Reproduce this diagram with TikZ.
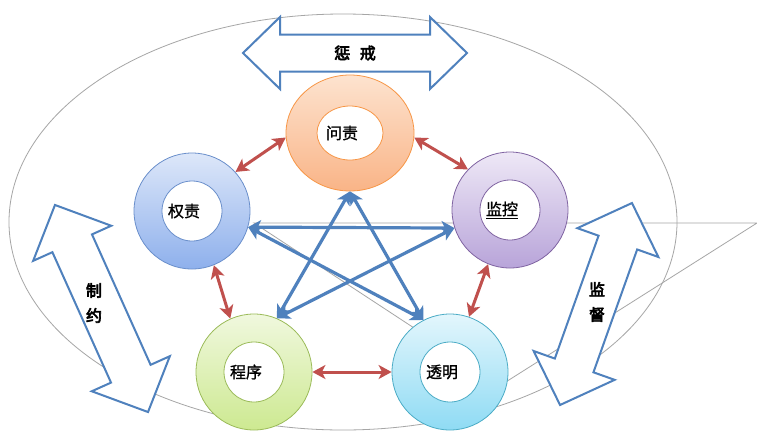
\documentclass[tikz,border=0pt]{standalone}
\usepackage{fontspec}
\usetikzlibrary{arrows.meta,shapes.geometric}
\newfontfamily\cjkring[FakeBold=1.2]{Noto Sans CJK SC}
\newfontfamily\cjkside[FakeBold=4]{Noto Sans CJK SC}
\definecolor{ellgray}{HTML}{A6A6A6}
\definecolor{arrblue}{HTML}{4F81BD}
\definecolor{arrred}{HTML}{C0504D}
\definecolor{orgtop}{HTML}{FDE3CF}
\definecolor{orgbot}{HTML}{F9B487}
\definecolor{orgbd}{HTML}{F79646}
\definecolor{blutop}{HTML}{DDE7F9}
\definecolor{blubot}{HTML}{8EB0EC}
\definecolor{blubd}{HTML}{6A8FCB}
\definecolor{purtop}{HTML}{EEE8F6}
\definecolor{purbot}{HTML}{B8A4D9}
\definecolor{purbd}{HTML}{8064A2}
\definecolor{grntop}{HTML}{F0F8DE}
\definecolor{grnbot}{HTML}{CDE991}
\definecolor{grnbd}{HTML}{9BBB59}
\definecolor{cyntop}{HTML}{E3F6FC}
\definecolor{cynbot}{HTML}{8FDBF4}
\definecolor{cynbd}{HTML}{4BACC6}
\newcommand\blockarrow[6]{%
  \draw[blockarrow, shift={(#1)}, rotate=#2]
    (-#3,0) -- (-#3+#6,#4) -- (-#3+#6,#5) -- (#3-#6,#5) -- (#3-#6,#4) -- (#3,0)
    -- (#3-#6,-#4) -- (#3-#6,-#5) -- (-#3+#6,-#5) -- (-#3+#6,-#4) -- cycle;}
\tikzset{
  holex/.store in=\holex, holey/.store in=\holey,
  ring/.style n args={3}{ellipse, inner sep=0pt, minimum width=116pt, minimum height=116pt,
    draw=#3, line width=0.8pt, top color=#1, bottom color=#2, text=black,
    font=\cjkring\fontsize{16}{16}\selectfont, holex=30pt, holey=30pt,
    path picture={\filldraw[fill=white, draw=#3, line width=0.8pt]
      (path picture bounding box.center) ellipse [x radius=\holex, y radius=\holey];}},
  blockarrow/.style={draw=arrblue, line width=2pt, fill=white, line join=miter},
  redarr/.style={draw=arrred, line width=3pt, {Stealth[length=13pt,width=14pt,inset=3.5pt]}-{Stealth[length=13pt,width=14pt,inset=3.5pt]}},
  bluearr/.style={draw=arrblue, line width=3.2pt, {Stealth[length=13pt,width=14pt,inset=3.5pt]}-{Stealth[length=13pt,width=14pt,inset=3.5pt]}},
  sidelabel/.style={font=\cjkside\fontsize{16}{25}\selectfont, align=center, inner sep=0pt, text=black},
  thingray/.style={draw=ellgray, line width=0.8pt},
}
\begin{document}
\begin{tikzpicture}[x=1pt,y=-1pt]
\useasboundingbox (0,0) rectangle (757,432);
\fill[white] (0,0) rectangle (757,432);
% callout outline
\draw[thingray] (343,222) ellipse [x radius=334pt, y radius=208pt];
\draw[thingray, line join=miter] (254,223) -- (757,223) -- (501,385) -- cycle;
% block arrows
\blockarrow{355,53}{0}{112}{36}{18.5}{37}
\blockarrow{101.5,308.5}{-65.8}{113.5}{42.8}{21.7}{42}
\blockarrow{596,304}{-109.6}{107.2}{43}{20.5}{42}
\node[sidelabel] (cj) at (355,53) {惩\hspace{0.6em}戒};
\node[sidelabel] (zy) at (94,303) {制\\约};
\node[sidelabel] (jd) at (597,302) {监\\督};
% rings
\node[ring={orgtop}{orgbot}{orgbd}, minimum width=128pt, holex=33pt, holey=27pt] (wz) at (350,133) {\hspace*{-16pt}问责};
\node[ring={blutop}{blubot}{blubd}] (qz) at (192,211) {\hspace*{-16pt}权责};
\node[ring={purtop}{purbot}{purbd}] (jk) at (510,210) {\hspace*{-16pt}\underline{监控}};
\node[ring={grntop}{grnbot}{grnbd}] (cx) at (254,372) {\hspace*{-16pt}程序};
\node[ring={cyntop}{cynbot}{cynbd}] (tm) at (450,372) {\hspace*{-16pt}透明};
% star connectors
\draw[bluearr] (qz.-16) -- (jk.198);
\draw[bluearr] (qz.-16) -- (tm.117);
\draw[bluearr] (wz.-90) -- (cx.67);
\draw[bluearr] (wz.-90) -- (tm.117);
\draw[bluearr] (jk.198) -- (cx.67);
% neighbour connectors
\draw[redarr] (qz.42) -- (wz.184);
\draw[redarr] (wz.-4) -- (jk.136);
\draw[redarr] (qz.-68) -- (cx.114);
\draw[redarr] (cx.0) -- (tm.180);
\draw[redarr] (jk.-112) -- (tm.71);
\end{tikzpicture}
\end{document}
